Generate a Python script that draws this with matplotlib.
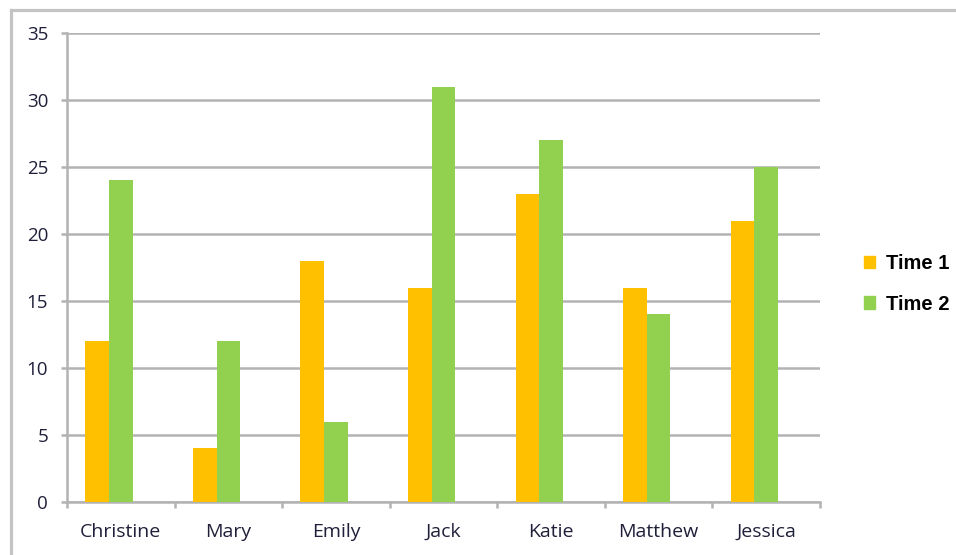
import matplotlib
matplotlib.use('Agg')
import matplotlib.pyplot as plt
from matplotlib.lines import Line2D
import numpy as np

# chart data
names = ['Christine', 'Mary', 'Emily', 'Jack', 'Katie', 'Matthew', 'Jessica']
time1 = [12, 4, 18, 16, 23, 16, 21]
time2 = [24, 12, 6, 31, 27, 14, 25]
yticks = [0, 5, 10, 15, 20, 25, 30, 35]

grey = '#B3B3B3'
text_col = '#1F1F3A'

fig = plt.figure(figsize=(9.56, 5.55), dpi=100)
ax = fig.add_axes([67 / 956, 1 - 502 / 555, 753 / 956, 469 / 555])

x = np.arange(len(names))
w = 0.22
# Excel-style placement: green bar sits on the category centre, orange just left of it
ax.bar(x - w, time1, w, color='#FFC000', label='Time 1', zorder=3)
ax.bar(x, time2, w, color='#92D050', label='Time 2', zorder=3)

ax.set_xlim(-0.5, len(names) - 0.5)
ax.set_ylim(0, 35)
ax.set_yticks(yticks)
ax.set_yticklabels([str(t) for t in yticks], fontsize=13.5, family='Open Sans', color=text_col)
ax.yaxis.grid(True, color=grey, linewidth=1.8, zorder=0)
ax.tick_params(axis='y', length=4.5, color=grey, width=1.8, pad=9)

ax.set_xticks(x)
ax.set_xticklabels(names, fontsize=14, family='Open Sans', color=text_col)
ax.set_xticks(np.arange(-0.5, len(names)), minor=True)
ax.tick_params(axis='x', which='major', length=0, pad=15)
ax.tick_params(axis='x', which='minor', length=4, color=grey, width=1.8)

for s in ['top', 'right']:
    ax.spines[s].set_visible(False)
for s in ['left', 'bottom']:
    ax.spines[s].set_color(grey)
    ax.spines[s].set_linewidth(1.8)

handles = [plt.Rectangle((0, 0), 1, 1, color='#FFC000'),
           plt.Rectangle((0, 0), 1, 1, color='#92D050')]
fig.legend(handles, ['Time 1', 'Time 2'], loc='center left',
           bbox_to_anchor=(848 / 956, 1 - 284 / 555), frameon=False,
           prop={'family': 'Liberation Sans', 'weight': 'bold', 'size': 14.5},
           handlelength=0.55, handleheight=0.55, handletextpad=0.55, labelspacing=1.05,
           borderpad=0.3)

# outer chart border (top and left edges visible)
fig.add_artist(Line2D([10.5 / 956, 1.0], [1 - 9.5 / 555, 1 - 9.5 / 555], color='#C4C4C4', linewidth=2.3, transform=fig.transFigure))
fig.add_artist(Line2D([10.5 / 956, 10.5 / 956], [0, 1 - 9.5 / 555], color='#C4C4C4', linewidth=2.3, transform=fig.transFigure))

fig.savefig('out.png', dpi=100)
